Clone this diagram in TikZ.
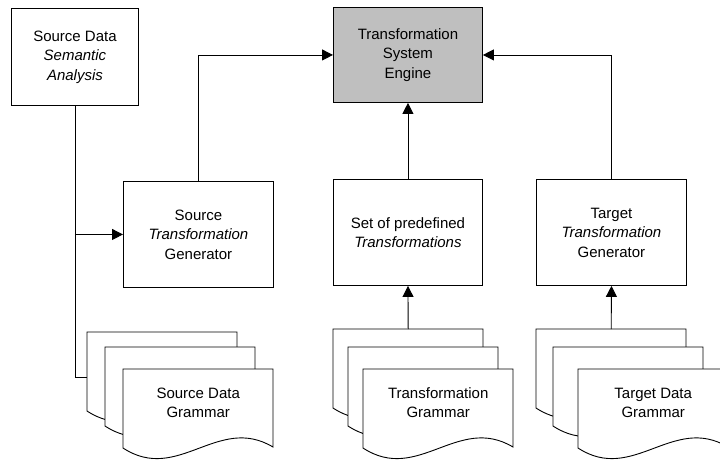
\documentclass[tikz,border=0pt]{standalone}
\usepackage{fontspec}
\setmainfont{Liberation Sans}
\usetikzlibrary{arrows.meta,calc}
\tikzset{
  base/.style={font=\fontsize{15}{19.5}\selectfont, align=center, inner sep=0pt},
  box/.style={base, draw, line width=0.9pt, fill=white, anchor=north west},
  enginebox/.style={box, fill=black!25},
  doctext/.style={base, anchor=north west, minimum width=150pt, minimum height=67pt},
  docline/.style={draw, line width=0.9pt, fill=white, line join=miter},
  conn/.style={line width=0.9pt},
  arr/.style={conn, -{Triangle[length=11pt,width=11pt]}}
}
\newcommand\docat[4]{%
  \path[docline] (#2,#3) -- ++(150,0) -- ++(0,78)
     .. controls +(-55,-33) and +(55,36) .. ++(-150,1) -- cycle;
  \node[doctext] (#1) at (#2,#3) {#4};
}
\begin{document}
\begin{tikzpicture}[x=1pt,y=-1pt]
\useasboundingbox (0,0) rectangle (720,459);
\clip (0,0) rectangle (720,459);

% boxes
\node[box, minimum width=127pt, minimum height=97pt] (sd) at (11,8)
  {Source Data\\\textit{Semantic}\\\textit{Analysis}};
\node[enginebox, minimum width=149pt, minimum height=95pt] (eng) at (333,7)
  {Transformation\\System\\Engine};
\node[box, minimum width=150pt, minimum height=106pt] (sgen) at (123,181)
  {Source\\\textit{Transformation}\\Generator};
\node[box, minimum width=149pt, minimum height=106pt] (set) at (333,179)
  {Set of predefined\\\textit{Transformations}};
\node[box, minimum width=150pt, minimum height=106pt] (tgen) at (536,179)
  {Target\\\textit{Transformation}\\Generator};

% document stacks
\docat{sdoc1}{87}{332}{}
\docat{sdoc2}{105}{347}{}
\docat{sdoc3}{123}{369}{Source Data\\Grammar}

\docat{fdoc1}{333}{329}{}
\docat{fdoc2}{348}{347}{}
\docat{fdoc3}{363}{369}{Transformation\\Grammar}

\docat{tdoc1}{536}{329}{}
\docat{tdoc2}{553}{347}{}
\docat{tdoc3}{578}{369}{Target Data\\Grammar}

% connectors
\draw[arr] (sgen.north) |- (eng.west);
\draw[arr] (tgen.north) |- (eng.east);
\draw[arr] (set.north) -- (eng.south);
\draw[arr] (fdoc1.north) -- (set.south);
\draw[arr] (tdoc1.north) -- (tgen.south);
\coordinate (sdin) at ($(sdoc1.north west)+(0,45)$);
\draw[conn] (sd.south) |- (sdin);
\draw[arr] (sd.south |- sgen.west) -- (sgen.west);
\end{tikzpicture}
\end{document}
